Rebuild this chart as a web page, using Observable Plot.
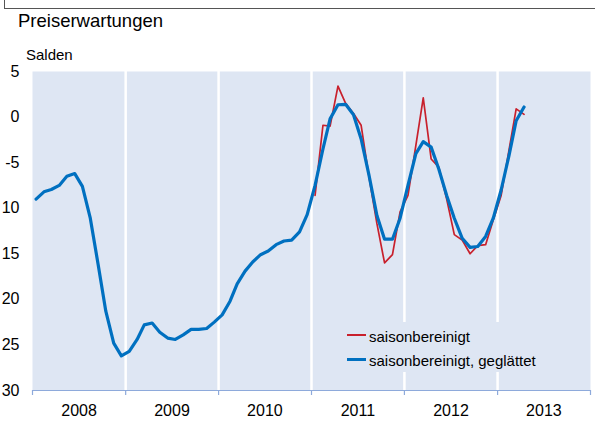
<!DOCTYPE html>
<html><head><meta charset="utf-8">
<script src="https://cdn.jsdelivr.net/npm/d3@7"></script>
<script src="https://cdn.jsdelivr.net/npm/@observablehq/plot@0.6"></script>
<style>
body{margin:0;background:#fff;font-family:"Liberation Sans",Arial,sans-serif;}
#wrap{position:relative;width:595px;height:421px;overflow:hidden;background:#fff;}
#chart{position:absolute;left:0;top:0;}
.bh{position:absolute;left:4px;top:8px;width:591px;height:0;border-top:1.5px solid #555;}
.bv{position:absolute;left:4px;top:0;width:0;height:9px;border-left:1px solid #555;}
#title{position:absolute;left:18px;top:11.6px;font-size:18.5px;line-height:1;color:#000;}
#unit{position:absolute;left:26px;top:47px;font-size:15px;line-height:1;color:#000;}
#legend{position:absolute;left:340px;top:322px;width:200px;height:50px;background:#dee6f3;}
.lrow{position:absolute;left:0;width:200px;height:20px;}
.sw{position:absolute;left:6.5px;width:19.5px;}
.lt{position:absolute;left:29px;font-size:15px;line-height:1;white-space:nowrap;color:#000;}
</style></head><body>
<div id="wrap">
  <div id="chart"></div>
  <div class="bh"></div>
  <div class="bv"></div>
  <div id="title">Preiserwartungen</div>
  <div id="unit">Salden</div>
  <div id="legend"></div>
</div>
<script>
// Monthly balances, starting January 2008
const smoothed = [
  -9.0, -8.2, -7.95, -7.5, -6.5, -6.2, -7.6, -11.1, -16.2, -21.3, -24.8, -26.2,
  -25.7, -24.4, -22.8, -22.6, -23.6, -24.25, -24.4, -23.9, -23.3, -23.3, -23.2, -22.5,
  -21.7, -20.2, -18.3, -16.9, -15.9, -15.1, -14.7, -14.0, -13.6, -13.5, -12.6, -10.7,
  -7.5, -3.5, -0.2, 1.35, 1.4, 0.25, -2.4, -6.4, -10.8, -13.4, -13.4, -11.1,
  -7.5, -4.0, -2.7, -3.3, -5.7, -8.6, -11.1, -13.3, -14.3, -14.2, -13.1, -11.1,
  -8.0, -4.2, -0.4, 1.1
];
// Seasonally adjusted, starting January 2011
const adjustedStart = 36;
const adjusted = [
  -8.6, -0.9, -1.0, 3.4, 1.5, 0.4, -0.9, -6.6, -11.7, -16.0, -15.1, -10.4,
  -8.6, -3.1, 2.1, -4.6, -5.5, -9.0, -12.9, -13.5, -15.0, -14.1, -14.0, -11.3,
  -8.6, -3.6, 0.9, 0.3
];
const years = [2008, 2009, 2010, 2011, 2012, 2013];
const yTicks = [5, 0, -5, -10, -15, -20, -25, -30];
const yTickLabels = ["5", "0", "-5", "10", "15", "20", "25", "30"];
const legendLabels = ["saisonbereinigt", "saisonbereinigt, geglättet"];
const colors = {adjusted: "#c8202c", smoothed: "#0070c0", bg: "#dee6f3", axis: "#8eaadb"};

const monthDate = i => new Date(Date.UTC(2008, i, 15));
const smoothData = smoothed.map((v, i) => ({date: monthDate(i), value: v}));
const adjData = adjusted.map((v, i) => ({date: monthDate(adjustedStart + i), value: v}));
const boundaries = [...years, years[years.length - 1] + 1].map(y => new Date(Date.UTC(y, 0, 1)));
const innerBoundaries = boundaries.slice(1, -1);
const midYears = years.map(y => new Date(Date.UTC(y, 6, 2)));

const chart = Plot.plot({
  width: 595,
  height: 421,
  marginTop: 71,
  marginBottom: 31,
  marginLeft: 32,
  marginRight: 5,
  style: {fontFamily: '"Liberation Sans", Arial, sans-serif', fontSize: "16px", background: "transparent", color: "#000", overflow: "visible"},
  x: {type: "utc", domain: [boundaries[0], boundaries[boundaries.length - 1]]},
  y: {domain: [-30, 5]},
  marks: [
    Plot.frame({fill: colors.bg, strokeOpacity: 0}),
    Plot.ruleX(innerBoundaries, {stroke: "white", strokeWidth: 2.5}),
    Plot.ruleY([-30], {stroke: colors.axis, strokeWidth: 1.2}),
    Plot.axisX({ticks: boundaries, tickSize: 5, stroke: colors.axis, strokeWidth: 1.2, tickFormat: () => "", label: null}),
    Plot.axisX({ticks: midYears, tickSize: 0, tickPadding: 14, tickFormat: d => String(d.getUTCFullYear()), label: null, fontSize: 16}),
    Plot.axisY({ticks: yTicks, tickSize: 0, tickPadding: 13, tickFormat: d => yTickLabels[yTicks.indexOf(d)], label: null, fontSize: 16}),
    Plot.line(adjData, {x: "date", y: "value", stroke: colors.adjusted, strokeWidth: 1.7}),
    Plot.line(smoothData, {x: "date", y: "value", stroke: colors.smoothed, strokeWidth: 3.2})
  ]
});
document.getElementById("chart").appendChild(chart);

// legend
const legend = document.getElementById("legend");
const legendColors = [colors.adjusted, colors.smoothed];
const legendWidths = [2, 3.5];
const rowTops = [0, 24.5];
legendLabels.forEach((lab, i) => {
  const row = document.createElement("div");
  row.className = "lrow";
  row.style.top = rowTops[i] + "px";
  const sw = document.createElement("div");
  sw.className = "sw";
  sw.style.top = (13 - legendWidths[i] / 2) + "px";
  sw.style.height = legendWidths[i] + "px";
  sw.style.background = legendColors[i];
  const t = document.createElement("div");
  t.className = "lt";
  t.style.top = "6.8px";
  t.textContent = lab;
  row.appendChild(sw);
  row.appendChild(t);
  legend.appendChild(row);
});
</script>
</body></html>
